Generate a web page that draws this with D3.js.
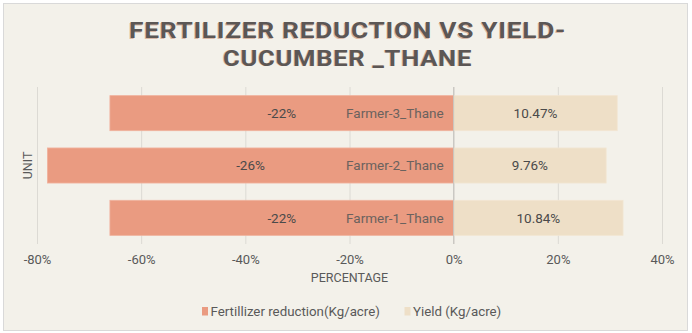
<!DOCTYPE html>
<html>
<head>
<meta charset="utf-8">
<script src="https://cdn.jsdelivr.net/npm/d3@7"></script>
<style>
  html, body { margin: 0; padding: 0; background: #ffffff; }
  svg { display: block; }
  text { font-family: Roboto, "Open Sans", sans-serif; }
</style>
</head>
<body>
<svg id="chart" width="692" height="333"></svg>
<script>
// Farmers, bottom to top as plotted
const farmers = ["Farmer-1_Thane", "Farmer-2_Thane", "Farmer-3_Thane"];
// Fertilizer reduction (%), shown on the negative side
const fertilizerReduction = [-22, -26, -22];
// Yield change (%)
const yieldChange = [10.84, 9.76, 10.47];
// Value labels as printed on the bars
const fertilizerLabels = ["-22%", "-26%", "-22%"];
const yieldLabels = ["10.84%", "9.76%", "10.47%"];
// Axis ticks and their labels
const tickValues = [-80, -60, -40, -20, 0, 20, 40];
const tickLabels = ["-80%", "-60%", "-40%", "-20%", "0%", "20%", "40%"];
const seriesNames = ["Fertillizer reduction(Kg/acre)", "Yield (Kg/acre)"];
const titleLines = ["FERTILIZER REDUCTION VS YIELD-", "CUCUMBER _THANE"];

const W = 692, H = 333;
const plot = { left: 37, right: 662, top: 87, bottom: 244 };
const colors = { fert: "#ea9b81", yield: "#eedfc7", bg: "#f3f1ea",
                 grid: "#dcdad4", zero: "#c4c2bd", text: "#595959" };
// the axis runs three times wider than the bar values it carries
const AXIS_STRETCH = 3;

const svg = d3.select("#chart");

// chart area with its thin frame
svg.append("rect")
  .attr("x", 3.5).attr("y", 3.5).attr("width", 684).attr("height", 327)
  .attr("fill", colors.bg).attr("stroke", "#d9d9d9").attr("stroke-width", 1);

const xAxisScale = d3.scaleLinear().domain([-80, 40]).range([plot.left, plot.right]);
const xBar = d3.scaleLinear()
  .domain([-80 / AXIS_STRETCH, 40 / AXIS_STRETCH])
  .range([plot.left, plot.right]);
const y = d3.scaleBand().domain(farmers.slice().reverse())
  .range([plot.top, plot.bottom]).paddingInner(0.33).paddingOuter(0.165);

// title, with a soft offset shadow
const title = svg.append("g");
const titleWidths = [437, 249];
titleLines.forEach((line, i) => {
  const yy = 38.3 + i * 27.5;
  [{ dx: -0.9, fill: "#c58a6e", op: 0.55 }, { dx: 0, fill: "#5c5755", op: 1 }].forEach(s => {
    title.append("text")
      .attr("x", 347.5 + s.dx).attr("y", yy + (s.dx ? 0.3 : 0))
      .attr("text-anchor", "middle")
      .attr("font-size", 22.5).attr("font-weight", 700)
      .attr("letter-spacing", 0.6)
      .attr("fill", s.fill).attr("opacity", s.op)
      .attr("textLength", titleWidths[i]).attr("lengthAdjust", "spacingAndGlyphs")
      .text(line);
  });
});

// gridlines with short ticks below the plot
const xAxis = d3.axisBottom(xAxisScale)
  .tickValues(tickValues)
  .tickSize(-(plot.bottom - plot.top))
  .tickFormat((d, i) => tickLabels[i]);
const gx = svg.append("g")
  .attr("transform", `translate(0,${plot.bottom})`)
  .call(xAxis);
gx.select(".domain").remove();
gx.selectAll(".tick line").attr("stroke", colors.grid).attr("stroke-width", 1);
gx.selectAll(".tick text")
  .attr("y", 20).attr("dy", 0)
  .attr("font-size", 13).attr("fill", colors.text)
  .attr("font-family", "Roboto, sans-serif");

const rows = farmers.map((f, i) => ({
  farmer: f, fert: fertilizerReduction[i], yld: yieldChange[i],
  fertLabel: fertilizerLabels[i], yieldLabel: yieldLabels[i]
}));

// fertilizer reduction bars
svg.append("g").selectAll("rect").data(rows).join("rect")
  .attr("x", d => xBar(d.fert))
  .attr("y", d => y(d.farmer))
  .attr("width", d => xBar(0) - xBar(d.fert))
  .attr("height", y.bandwidth())
  .attr("fill", colors.fert)
  .attr("stroke", "#f0b29d").attr("stroke-width", 0.8);

// yield bars
svg.append("g").selectAll("rect").data(rows).join("rect")
  .attr("x", xBar(0))
  .attr("y", d => y(d.farmer))
  .attr("width", d => xBar(d.yld) - xBar(0))
  .attr("height", y.bandwidth())
  .attr("fill", colors.yield)
  .attr("stroke", "#f2e6d3").attr("stroke-width", 0.8);

// zero line
svg.append("line")
  .attr("x1", xBar(0)).attr("x2", xBar(0))
  .attr("y1", plot.top).attr("y2", plot.bottom)
  .attr("stroke", colors.zero).attr("stroke-width", 1);

// value labels centred in each bar
const labels = svg.append("g").attr("font-size", 13.5).attr("fill", "#4a4a4a");
labels.selectAll(".fl").data(rows).join("text")
  .attr("x", d => (xBar(d.fert) + xBar(0)) / 2)
  .attr("y", d => y(d.farmer) + y.bandwidth() / 2 + 4.7)
  .attr("text-anchor", "middle")
  .text(d => d.fertLabel);
labels.selectAll(".yl").data(rows).join("text")
  .attr("x", d => (xBar(d.yld) + xBar(0)) / 2)
  .attr("y", d => y(d.farmer) + y.bandwidth() / 2 + 4.7)
  .attr("text-anchor", "middle")
  .text(d => d.yieldLabel);

// category names just left of zero
svg.append("g").selectAll("text").data(rows).join("text")
  .attr("x", xBar(0) - 10)
  .attr("y", d => y(d.farmer) + y.bandwidth() / 2 + 4.7)
  .attr("text-anchor", "end")
  .attr("font-size", 13.5).attr("fill", "#6a625e")
  .text(d => d.farmer);

// axis titles
svg.append("text")
  .attr("x", (plot.left + plot.right) / 2).attr("y", 282)
  .attr("text-anchor", "middle")
  .attr("font-size", 12.5).attr("fill", colors.text)
  .text("PERCENTAGE");
svg.append("text")
  .attr("transform", `translate(32,${(plot.top + plot.bottom) / 2}) rotate(-90)`)
  .attr("text-anchor", "middle")
  .attr("font-size", 12.5).attr("fill", colors.text)
  .text("UNIT");

// legend
const legend = svg.append("g").attr("font-size", 13.3).attr("fill", colors.text);
const legendItems = [
  { x: 202, color: colors.fert, name: seriesNames[0] },
  { x: 404.5, color: colors.yield, name: seriesNames[1] }
];
legendItems.forEach(it => {
  legend.append("rect")
    .attr("x", it.x).attr("y", 307).attr("width", 6).attr("height", 8.5)
    .attr("fill", it.color);
  legend.append("text")
    .attr("x", it.x + 8.5).attr("y", 316)
    .text(it.name);
});
</script>
</body>
</html>
